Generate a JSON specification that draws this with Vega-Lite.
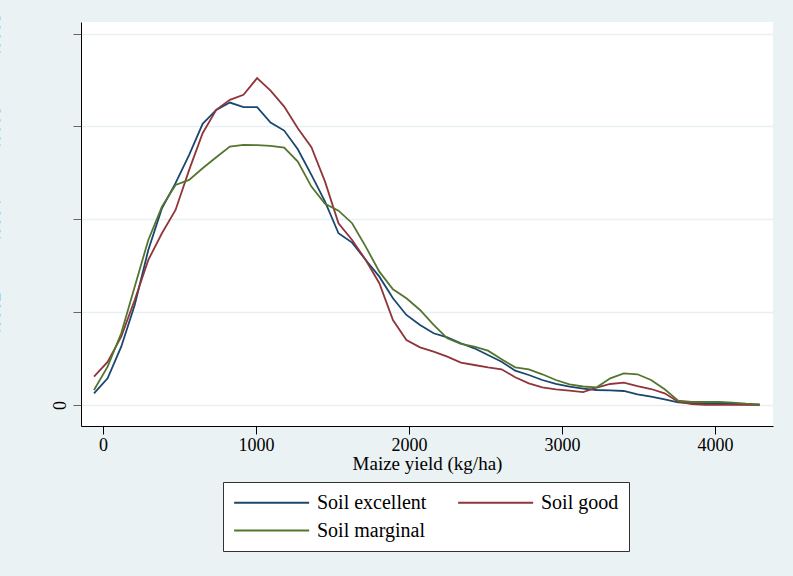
{
"$schema": "https://vega.github.io/schema/vega-lite/v6.json",
"autosize": {"type": "none"},
"width": 692, "height": 404,
"padding": {"left": 81, "top": 22, "right": 20, "bottom": 150},
"background": "#eaf2f3",
"config": {"font": "Liberation Serif", "view": {"fill": "white", "stroke": null}},
"data": {"values": [
{"x":-59,"d":0.0000252,"soil":"Soil excellent"},{"x":30,"d":0.0000575,"soil":"Soil excellent"},{"x":119,"d":0.0001256,"soil":"Soil excellent"},{"x":207,"d":0.0002155,"soil":"Soil excellent"},{"x":296,"d":0.0003340,"soil":"Soil excellent"},{"x":385,"d":0.0004239,"soil":"Soil excellent"},{"x":474,"d":0.0004778,"soil":"Soil excellent"},{"x":563,"d":0.0005388,"soil":"Soil excellent"},{"x":651,"d":0.0006056,"soil":"Soil excellent"},{"x":740,"d":0.0006357,"soil":"Soil excellent"},
{"x":829,"d":0.0006515,"soil":"Soil excellent"},{"x":918,"d":0.0006415,"soil":"Soil excellent"},{"x":1007,"d":0.0006415,"soil":"Soil excellent"},{"x":1095,"d":0.0006084,"soil":"Soil excellent"},{"x":1184,"d":0.0005911,"soil":"Soil excellent"},{"x":1273,"d":0.0005510,"soil":"Soil excellent"},{"x":1362,"d":0.0004957,"soil":"Soil excellent"},{"x":1451,"d":0.0004381,"soil":"Soil excellent"},{"x":1539,"d":0.0003700,"soil":"Soil excellent"},{"x":1628,"d":0.0003498,"soil":"Soil excellent"},
{"x":1717,"d":0.0003125,"soil":"Soil excellent"},{"x":1806,"d":0.0002765,"soil":"Soil excellent"},{"x":1895,"d":0.0002299,"soil":"Soil excellent"},{"x":1983,"d":0.0001940,"soil":"Soil excellent"},{"x":2072,"d":0.0001724,"soil":"Soil excellent"},{"x":2161,"d":0.0001545,"soil":"Soil excellent"},{"x":2250,"d":0.0001459,"soil":"Soil excellent"},{"x":2339,"d":0.0001330,"soil":"Soil excellent"},{"x":2427,"d":0.0001222,"soil":"Soil excellent"},{"x":2516,"d":0.0001078,"soil":"Soil excellent"},
{"x":2605,"d":0.0000933,"soil":"Soil excellent"},{"x":2694,"d":0.0000739,"soil":"Soil excellent"},{"x":2783,"d":0.0000647,"soil":"Soil excellent"},{"x":2871,"d":0.0000539,"soil":"Soil excellent"},{"x":2960,"d":0.0000453,"soil":"Soil excellent"},{"x":3049,"d":0.0000394,"soil":"Soil excellent"},{"x":3138,"d":0.0000351,"soil":"Soil excellent"},{"x":3227,"d":0.0000323,"soil":"Soil excellent"},{"x":3315,"d":0.0000317,"soil":"Soil excellent"},{"x":3404,"d":0.0000302,"soil":"Soil excellent"},
{"x":3493,"d":0.0000231,"soil":"Soil excellent"},{"x":3582,"d":0.0000179,"soil":"Soil excellent"},{"x":3671,"d":0.0000123,"soil":"Soil excellent"},{"x":3759,"d":0.0000058,"soil":"Soil excellent"},{"x":3848,"d":0.0000043,"soil":"Soil excellent"},{"x":3937,"d":0.0000037,"soil":"Soil excellent"},{"x":4026,"d":0.0000028,"soil":"Soil excellent"},{"x":4115,"d":0.0000022,"soil":"Soil excellent"},{"x":4203,"d":0.0000015,"soil":"Soil excellent"},{"x":4292,"d":0.0000006,"soil":"Soil excellent"},
{"x":-59,"d":0.0000610,"soil":"Soil good"},{"x":30,"d":0.0000927,"soil":"Soil good"},{"x":119,"d":0.0001472,"soil":"Soil good"},{"x":207,"d":0.0002263,"soil":"Soil good"},{"x":296,"d":0.0003125,"soil":"Soil good"},{"x":385,"d":0.0003700,"soil":"Soil good"},{"x":474,"d":0.0004202,"soil":"Soil good"},{"x":563,"d":0.0005064,"soil":"Soil good"},{"x":651,"d":0.0005855,"soil":"Soil good"},{"x":740,"d":0.0006357,"soil":"Soil good"},
{"x":829,"d":0.0006573,"soil":"Soil good"},{"x":918,"d":0.0006681,"soil":"Soil good"},{"x":1007,"d":0.0007040,"soil":"Soil good"},{"x":1095,"d":0.0006773,"soil":"Soil good"},{"x":1184,"d":0.0006428,"soil":"Soil good"},{"x":1273,"d":0.0005963,"soil":"Soil good"},{"x":1362,"d":0.0005553,"soil":"Soil good"},{"x":1451,"d":0.0004812,"soil":"Soil good"},{"x":1539,"d":0.0003916,"soil":"Soil good"},{"x":1628,"d":0.0003556,"soil":"Soil good"},
{"x":1717,"d":0.0003125,"soil":"Soil good"},{"x":1806,"d":0.0002623,"soil":"Soil good"},{"x":1895,"d":0.0001832,"soil":"Soil good"},{"x":1983,"d":0.0001401,"soil":"Soil good"},{"x":2072,"d":0.0001243,"soil":"Soil good"},{"x":2161,"d":0.0001149,"soil":"Soil good"},{"x":2250,"d":0.0001041,"soil":"Soil good"},{"x":2339,"d":0.0000912,"soil":"Soil good"},{"x":2427,"d":0.0000862,"soil":"Soil good"},{"x":2516,"d":0.0000812,"soil":"Soil good"},
{"x":2605,"d":0.0000769,"soil":"Soil good"},{"x":2694,"d":0.0000597,"soil":"Soil good"},{"x":2783,"d":0.0000468,"soil":"Soil good"},{"x":2871,"d":0.0000381,"soil":"Soil good"},{"x":2960,"d":0.0000338,"soil":"Soil good"},{"x":3049,"d":0.0000308,"soil":"Soil good"},{"x":3138,"d":0.0000276,"soil":"Soil good"},{"x":3227,"d":0.0000377,"soil":"Soil good"},{"x":3315,"d":0.0000453,"soil":"Soil good"},{"x":3404,"d":0.0000481,"soil":"Soil good"},
{"x":3493,"d":0.0000409,"soil":"Soil good"},{"x":3582,"d":0.0000345,"soil":"Soil good"},{"x":3671,"d":0.0000252,"soil":"Soil good"},{"x":3759,"d":0.0000071,"soil":"Soil good"},{"x":3848,"d":0.0000022,"soil":"Soil good"},{"x":3937,"d":0.0000006,"soil":"Soil good"},{"x":4026,"d":0.0000004,"soil":"Soil good"},{"x":4115,"d":0.0000004,"soil":"Soil good"},{"x":4203,"d":0.0000004,"soil":"Soil good"},{"x":4292,"d":0.0000004,"soil":"Soil good"},
{"x":-59,"d":0.0000323,"soil":"Soil marginal"},{"x":30,"d":0.0000825,"soil":"Soil marginal"},{"x":119,"d":0.0001545,"soil":"Soil marginal"},{"x":207,"d":0.0002549,"soil":"Soil marginal"},{"x":296,"d":0.0003556,"soil":"Soil marginal"},{"x":385,"d":0.0004273,"soil":"Soil marginal"},{"x":474,"d":0.0004741,"soil":"Soil marginal"},{"x":563,"d":0.0004849,"soil":"Soil marginal"},{"x":651,"d":0.0005101,"soil":"Soil marginal"},{"x":740,"d":0.0005338,"soil":"Soil marginal"},
{"x":829,"d":0.0005566,"soil":"Soil marginal"},{"x":918,"d":0.0005603,"soil":"Soil marginal"},{"x":1007,"d":0.0005597,"soil":"Soil marginal"},{"x":1095,"d":0.0005581,"soil":"Soil marginal"},{"x":1184,"d":0.0005545,"soil":"Soil marginal"},{"x":1273,"d":0.0005243,"soil":"Soil marginal"},{"x":1362,"d":0.0004704,"soil":"Soil marginal"},{"x":1451,"d":0.0004332,"soil":"Soil marginal"},{"x":1539,"d":0.0004187,"soil":"Soil marginal"},{"x":1628,"d":0.0003916,"soil":"Soil marginal"},
{"x":1717,"d":0.0003411,"soil":"Soil marginal"},{"x":1806,"d":0.0002873,"soil":"Soil marginal"},{"x":1895,"d":0.0002493,"soil":"Soil marginal"},{"x":1983,"d":0.0002299,"soil":"Soil marginal"},{"x":2072,"d":0.0002047,"soil":"Soil marginal"},{"x":2161,"d":0.0001724,"soil":"Soil marginal"},{"x":2250,"d":0.0001437,"soil":"Soil marginal"},{"x":2339,"d":0.0001315,"soil":"Soil marginal"},{"x":2427,"d":0.0001256,"soil":"Soil marginal"},{"x":2516,"d":0.0001170,"soil":"Soil marginal"},
{"x":2605,"d":0.0000985,"soil":"Soil marginal"},{"x":2694,"d":0.0000812,"soil":"Soil marginal"},{"x":2783,"d":0.0000769,"soil":"Soil marginal"},{"x":2871,"d":0.0000662,"soil":"Soil marginal"},{"x":2960,"d":0.0000539,"soil":"Soil marginal"},{"x":3049,"d":0.0000446,"soil":"Soil marginal"},{"x":3138,"d":0.0000399,"soil":"Soil marginal"},{"x":3227,"d":0.0000381,"soil":"Soil marginal"},{"x":3315,"d":0.0000575,"soil":"Soil marginal"},{"x":3404,"d":0.0000683,"soil":"Soil marginal"},
{"x":3493,"d":0.0000662,"soil":"Soil marginal"},{"x":3582,"d":0.0000539,"soil":"Soil marginal"},{"x":3671,"d":0.0000338,"soil":"Soil marginal"},{"x":3759,"d":0.0000093,"soil":"Soil marginal"},{"x":3848,"d":0.0000065,"soil":"Soil marginal"},{"x":3937,"d":0.0000065,"soil":"Soil marginal"},{"x":4026,"d":0.0000065,"soil":"Soil marginal"},{"x":4115,"d":0.0000050,"soil":"Soil marginal"},{"x":4203,"d":0.0000028,"soil":"Soil marginal"},{"x":4292,"d":0.0000015,"soil":"Soil marginal"}
]},
"layer": [
{"mark": {"type": "line", "strokeWidth": 1.8},
 "encoding": {
  "x": {"field": "x", "type": "quantitative", "scale": {"domain": [-144, 4379], "nice": false, "zero": false},
   "axis": {"values": [0, 1000, 2000, 3000, 4000], "format": "d", "title": "Maize yield (kg/ha)", "grid": false, "domainColor": "#000", "tickColor": "#000", "tickSize": 8, "labelFontSize": 18, "labelColor": "#000", "labelFont": "Liberation Serif", "titleFont": "Liberation Serif", "titleFontSize": 19, "titleFontWeight": "normal", "titleColor": "#000", "labelPadding": 2, "titlePadding": 0, "labelFlush": false}},
  "y": {"field": "d", "type": "quantitative", "scale": {"domain": [-0.0000452, 0.000825], "nice": false, "zero": false},
   "axis": {"orient": "left", "values": [0, 0.0002, 0.0004, 0.0006, 0.0008], "title": null, "grid": true, "gridColor": "#e8f0f1", "gridWidth": 1.5, "domainColor": "#000", "tickColor": "#666", "tickSize": 8, "labelAngle": -90, "labelExpr": "datum.value == 0 ? '0' : ''", "labelFontSize": 18, "labelFont": "Liberation Serif", "labelColor": "#000", "labelPadding": 4}},
  "color": {"field": "soil", "type": "nominal",
   "scale": {"domain": ["Soil excellent", "Soil good", "Soil marginal"], "range": ["#1a476f", "#90353b", "#55752f"]},
   "legend": {"orient": "none", "legendX": 142, "legendY": 460, "columns": 2, "direction": "horizontal", "title": null, "symbolType": "M-1,0H7", "symbolSize": 352, "symbolStrokeWidth": 2, "labelFontSize": 20, "labelFont": "Liberation Serif", "labelColor": "#000", "labelOffset": 63, "columnPadding": 27, "rowPadding": 7, "padding": 10, "fillColor": "white", "strokeColor": "#333", "labelLimit": 0}}
 }},
{"mark": {"type": "line", "opacity": 0},
 "encoding": {
  "x": {"field": "x", "type": "quantitative", "axis": null},
  "y": {"field": "d", "type": "quantitative",
   "axis": {"orient": "left", "values": [0.0002, 0.0004, 0.0006, 0.0008], "title": null, "grid": false, "domain": false, "ticks": false, "labelAngle": -90, "labelPadding": 78, "labelExpr": "replace(format(datum.value, '.4f'), '0.', '.')", "labelFontSize": 18, "labelFont": "Liberation Serif", "labelColor": "#000"}},
  "detail": {"field": "soil"}
 }}
],
"resolve": {"axis": {"y": "independent", "x": "independent"}}
}
